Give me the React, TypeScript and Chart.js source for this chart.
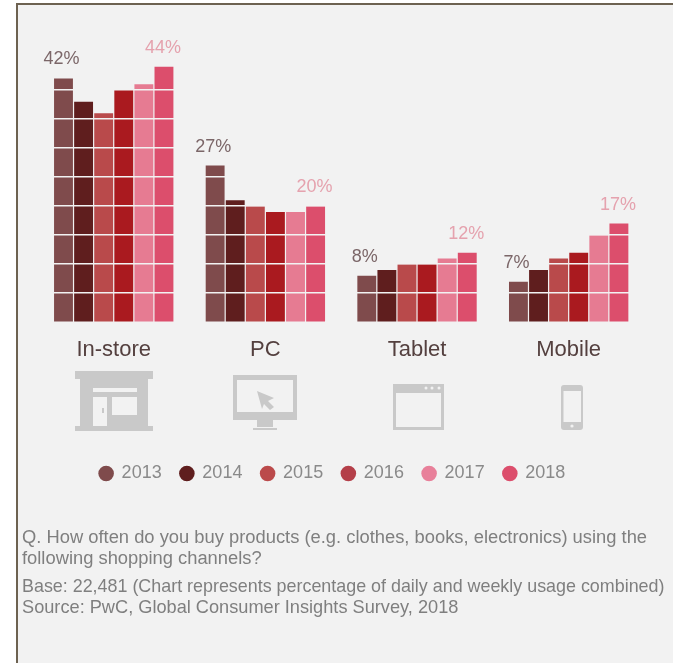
import React, { useEffect, useRef } from "react";
import { Chart, registerables } from "chart.js";

Chart.register(...registerables);

const channels = ["In-store", "PC", "Tablet", "Mobile"];
const years = ["2013", "2014", "2015", "2016", "2017", "2018"];

const share2013 = [42, 27, 8, 7];
const share2014 = [38, 21, 9, 9];
const share2015 = [36, 20, 10, 11];
const share2016 = [40, 19, 10, 12];
const share2017 = [41, 19, 11, 15];
const share2018 = [44, 20, 12, 17];

const barColors = ["#7f4b4c", "#5f1e1e", "#b94a4b", "#aa1a1f", "#e67b92", "#dc4e6c"];
const legendColors = ["#7f4b4c", "#5f1e1e", "#bb4a4b", "#b43f49", "#e8809a", "#dc4e6c"];

const noteLines = [
  "Q. How often do you buy products (e.g. clothes, books, electronics) using the",
  "following shopping channels?",
  "Base: 22,481 (Chart represents percentage of daily and weekly usage combined)",
  "Source: PwC, Global Consumer Insights Survey, 2018",
];

const FONT = '"Liberation Sans", Arial, sans-serif';
const PANEL = "#f2f2f2";
const ICON = "#c9c9c9";
const NOTE_CENTERS = [537, 558, 586, 607];
const NOTE_SIZES = [18.35, 18.35, 17.9, 18.2];

// Prints the first and last year's share above each channel's group of bars.
// Runs after the whole chart so the grid lines stay beneath the text.
const endLabels = {
  id: "endLabels",
  afterDraw(chart: Chart) {
    const { ctx } = chart;
    const lastIndex = chart.data.datasets.length - 1;
    ctx.save();
    ctx.font = `18px ${FONT}`;
    ctx.textAlign = "center";
    ctx.textBaseline = "middle";
    [0, lastIndex].forEach((datasetIndex) => {
      const meta = chart.getDatasetMeta(datasetIndex);
      ctx.fillStyle = datasetIndex === 0 ? "#7b6668" : "#e5a2ae";
      meta.data.forEach((bar, i) => {
        const value = chart.data.datasets[datasetIndex].data[i];
        const nudge = datasetIndex === 0 ? -2 : -1;
        ctx.fillText(`${value}%`, bar.x + nudge, bar.y - 19);
      });
    });
    ctx.restore();
  },
};

function ChannelIcons() {
  return (
    <svg width={673} height={663} style={{ position: "absolute", left: 0, top: 0 }}>
      {/* shop front */}
      <g fill={ICON}>
        <rect x={75} y={371} width={78} height={8} />
        <rect x={80} y={379} width={68} height={47} />
        <rect x={75} y={426} width={78} height={5} />
      </g>
      <g fill={PANEL}>
        <rect x={93} y={388} width={44} height={4} />
        <rect x={93} y={397} width={14} height={29} />
        <rect x={112} y={397} width={25} height={18} />
      </g>
      <rect x={102} y={408} width={2} height={5} fill={ICON} />

      {/* desktop monitor with pointer */}
      <g fill={ICON}>
        <path
          fillRule="evenodd"
          d="M233 375H297V420H233Z M237 380V412H293V380Z"
        />
        <rect x={257} y={420} width={16} height={7} />
        <rect x={253} y={428} width={24} height={2} />
        <path d="M257 391L274 398L268 401L274 407L270 410L264 404L262 409Z" />
      </g>

      {/* browser window */}
      <g fill={ICON}>
        <path
          fillRule="evenodd"
          d="M393 384H444V430H393Z M396 393V427H441V393Z"
        />
      </g>
      <g fill={PANEL}>
        <circle cx={426} cy={388} r={1.5} />
        <circle cx={432} cy={388} r={1.5} />
        <circle cx={439} cy={388} r={1.5} />
      </g>

      {/* phone */}
      <path
        fill={ICON}
        fillRule="evenodd"
        d="M564 385H580Q583 385 583 388V427Q583 430 580 430H564Q561 430 561 427V388Q561 385 564 385Z M563.5 391V422H581V391Z"
      />
      <circle cx={572} cy={426} r={1.6} fill={PANEL} />
    </svg>
  );
}

export default function App() {
  const canvasRef = useRef<HTMLCanvasElement>(null);

  useEffect(() => {
    const series = [share2013, share2014, share2015, share2016, share2017, share2018];
    const chart = new Chart(canvasRef.current as HTMLCanvasElement, {
      type: "bar",
      data: {
        labels: channels,
        datasets: years.map((year, i) => ({
          label: year,
          data: series[i],
          backgroundColor: barColors[i],
          borderWidth: 0,
          categoryPercentage: 0.795,
          barPercentage: 0.94,
        })),
      },
      options: {
        responsive: false,
        animation: false,
        layout: { padding: { top: 32, left: 20.5, right: 28.5, bottom: 170.5 } },
        scales: {
          x: {
            grid: { display: false },
            border: { display: false },
            ticks: { color: "#54403f", font: { family: FONT, size: 22 }, padding: 6, maxRotation: 0 },
            afterFit(scale: any) {
              scale.height = 123.5;
            },
          },
          y: {
            min: 0,
            max: 50,
            border: { display: false },
            grid: { color: PANEL, lineWidth: 1.6, z: 1, drawTicks: false },
            ticks: { display: false, stepSize: 5 },
            afterFit(scale: any) {
              scale.width = 17.4;
            },
          },
        },
        plugins: {
          tooltip: { enabled: false },
          legend: {
            display: true,
            position: "bottom",
            labels: {
              usePointStyle: true,
              boxWidth: 13,
              boxHeight: 11,
              padding: 18.7,
              color: "#8a8a8a",
              font: { family: FONT, size: 18 },
              generateLabels: () =>
                years.map((year, i) => ({
                  text: year,
                  fillStyle: legendColors[i],
                  strokeStyle: legendColors[i],
                  lineWidth: 0,
                  pointStyle: "circle",
                  datasetIndex: i,
                  fontColor: "#8a8a8a",
                })),
            },
          },
        },
      },
      plugins: [endLabels],
    });
    return () => chart.destroy();
  }, []);

  return (
    <div
      style={{
        position: "fixed",
        left: 0,
        top: 0,
        width: 673,
        height: 663,
        overflow: "hidden",
        background: "#ffffff",
      }}
    >
      <div
        style={{
          position: "absolute",
          left: 16,
          top: 3,
          right: 0,
          bottom: 0,
          background: PANEL,
          borderLeft: "2px solid #6d6251",
          borderTop: "2px solid #6d6251",
        }}
      />
      <ChannelIcons />
      <canvas
        ref={canvasRef}
        width={673}
        height={663}
        style={{ position: "absolute", left: 0, top: 0, display: "block" }}
      />
      {noteLines.map((line, i) => (
        <div
          key={line}
          style={{
            position: "absolute",
            left: 22,
            top: NOTE_CENTERS[i],
            transform: "translateY(-50%)",
            whiteSpace: "nowrap",
            color: "#7f7f7f",
            font: `${NOTE_SIZES[i]}px ${FONT}`,
          }}
        >
          {line}
        </div>
      ))}
    </div>
  );
}
